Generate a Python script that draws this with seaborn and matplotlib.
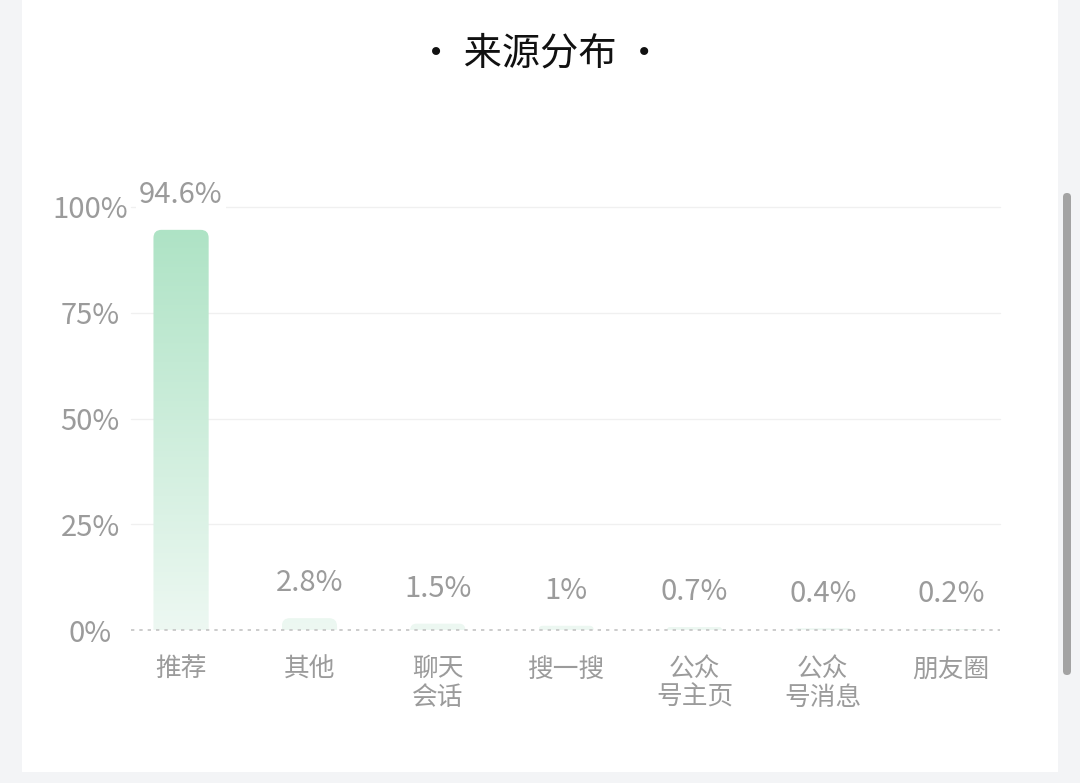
import numpy as np
import pandas as pd
import matplotlib
matplotlib.use('Agg')
import matplotlib.pyplot as plt
from matplotlib.patches import FancyBboxPatch
from matplotlib.colors import LinearSegmentedColormap
from matplotlib.transforms import IdentityTransform
import seaborn as sns

# 数据
sources = ['推荐', '其他', '聊天\n会话', '搜一搜', '公众\n号主页', '公众\n号消息', '朋友圈']
shares = [94.6, 2.8, 1.5, 1.0, 0.7, 0.4, 0.2]
share_labels = ['94.6%', '2.8%', '1.5%', '1%', '0.7%', '0.4%', '0.2%']
y_ticks = [0, 25, 50, 75, 100]
y_tick_labels = ['0%', '25%', '50%', '75%', '100%']
title = '· 来源分布 ·'

df = pd.DataFrame({'source': sources, 'share': shares})

sns.set_style('white')
plt.rcParams['font.family'] = ['Noto Sans CJK SC', 'DejaVu Sans']

W, H = 1080, 783
fig = plt.figure(figsize=(W / 100, H / 100), dpi=100)
fig.patch.set_facecolor('#f3f4f6')

# 白色卡片 + 滚动条
card = FancyBboxPatch((22, 11), 1036, 790, boxstyle='square,pad=0',
                      facecolor='white', edgecolor='none',
                      transform=IdentityTransform(), zorder=0)
fig.add_artist(card)
bar_scroll = FancyBboxPatch((1063, H - 675), 8, 482, boxstyle='round,pad=0,rounding_size=4',
                            facecolor='#a3a3a3', edgecolor='none',
                            transform=IdentityTransform(), zorder=1)
fig.add_artist(bar_scroll)

ax_l, ax_r = 131, 1000
ax_top, ax_bot = 207, 630
ax = fig.add_axes([ax_l / W, (H - ax_bot) / H, (ax_r - ax_l) / W, (ax_bot - ax_top) / H])
ax.set_facecolor('none')

sns.barplot(data=df, x='source', y='share', ax=ax, width=0.43, color='#b0e4c8')

xlo, xhi = -0.39, 6.38
ax.set_xlim(xlo, xhi)
ax.set_ylim(0, 100)
xpp = (xhi - xlo) / (ax_r - ax_l)
ypp = 100 / (ax_bot - ax_top)

# 渐变柱子, 顶部圆角
cmap = LinearSegmentedColormap.from_list('g', ['#edf8f2', '#aee3c5'])
grad = np.linspace(0, 1, 256).reshape(-1, 1)

for p in list(ax.patches):
    x0, w, h = p.get_x(), p.get_width(), p.get_height()
    p.set_visible(False)
    h_px = h / ypp
    r_px = min(8, h_px)
    shape = FancyBboxPatch((x0, -h), w, 2 * h,
                           boxstyle=f'round,pad=0,rounding_size={r_px * xpp}',
                           mutation_aspect=ypp / xpp,
                           facecolor='none', edgecolor='none', transform=ax.transData)
    ax.add_patch(shape)
    im = ax.imshow(grad, extent=[x0, x0 + w, 0, 95], origin='lower', cmap=cmap,
                   aspect='auto', zorder=2, vmin=0, vmax=1)
    im.set_clip_path(shape)

ax.set_xlim(xlo, xhi)
ax.set_ylim(0, 100)

# 网格线
for v in y_ticks[1:]:
    ax.axhline(v, color='#f0f0f0', lw=1, zorder=1, clip_on=False)
ax.axhline(0, color='#c4c4c4', lw=1.2, ls=(0, (2, 3)), zorder=3, clip_on=False)

for i, (v, lab) in enumerate(zip(shares, share_labels)):
    ax.annotate(lab, (i, v), xytext=(0, 25), textcoords='offset points',
                ha='center', va='center', fontsize=21, color='#9b9b9b',
                annotation_clip=False, zorder=4,
                bbox=dict(boxstyle='square,pad=0.1', fc='white', ec='none'))

ax.set_yticks(y_ticks)
ax.set_yticklabels(y_tick_labels, fontsize=21, color='#9b9b9b')
for t in ax.get_yticklabels():
    t.set_horizontalalignment('center')
ax.tick_params(axis='y', length=0, pad=29.5)

ax.set_xticks(range(len(sources)))
ax.set_xticklabels(sources, fontsize=18.5, color='#9b9b9b', linespacing=1.12)
ax.tick_params(axis='x', length=0, pad=19)

ax.set_xlabel('')
ax.set_ylabel('')
for s in ax.spines.values():
    s.set_visible(False)

fig.text(540 / W, 1 - 54 / H, title, ha='center', va='center', fontsize=27.5, color='#111111')

fig.savefig('out.png', dpi=100, facecolor=fig.get_facecolor())
